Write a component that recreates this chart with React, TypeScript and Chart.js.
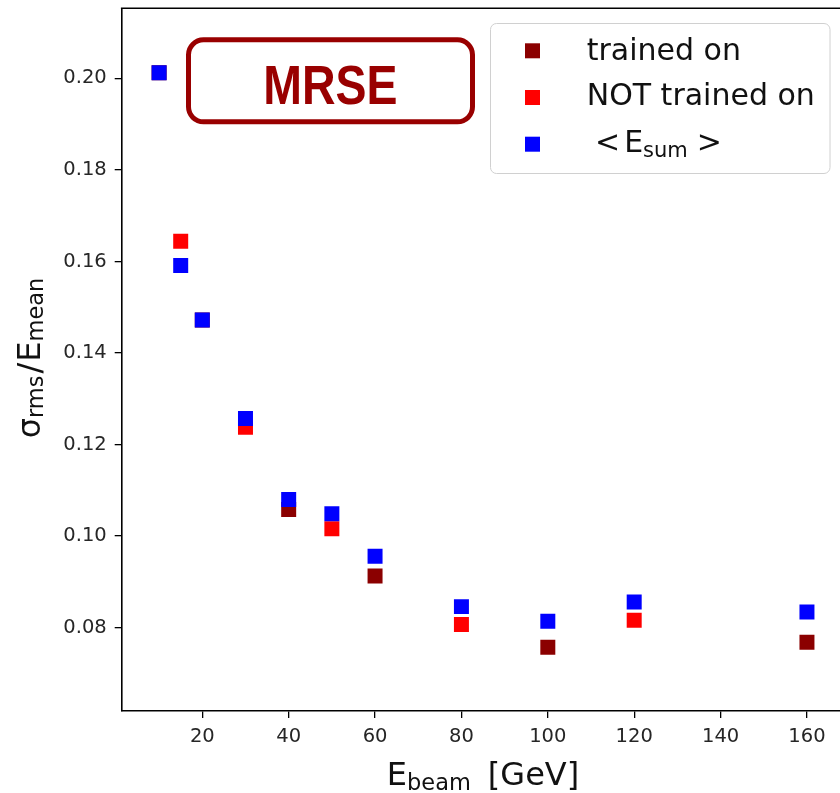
import React, { useEffect, useRef } from 'react';
import { Chart, registerables } from 'chart.js';

Chart.register(...registerables);

// ---- data ----
const TRAINED_E = [10, 20, 40, 60, 100, 160];
const TRAINED_RES = [0.2012, 0.1472, 0.1058, 0.0913, 0.0757, 0.0768];
const NOT_TRAINED_E = [15, 30, 50, 80, 120];
const NOT_TRAINED_RES = [0.1644, 0.1238, 0.1016, 0.0807, 0.0816];
const ESUM_E = [10, 15, 20, 30, 40, 50, 60, 80, 100, 120, 160];
const ESUM_RES = [0.2012, 0.1591, 0.1472, 0.1257, 0.108, 0.1049, 0.0956, 0.0846, 0.0814, 0.0856, 0.0834];
const X_TICKS = [20, 40, 60, 80, 100, 120, 140, 160];
const Y_TICKS = [0.08, 0.1, 0.12, 0.14, 0.16, 0.18, 0.2];
const SERIES_LABELS = ['trained on', 'NOT trained on', '<E_sum>'];
const SERIES_COLORS = ['#8b0000', '#ff0000', '#0000ff'];

const X_MIN = 1.34;
const X_MAX = 167.65;
const Y_MIN = 0.0618;
const Y_MAX = 0.2153;

const FONT = "'DejaVu Sans', sans-serif";
const BOX_RED = '#990000';

function roundRect(ctx: CanvasRenderingContext2D, x: number, y: number, w: number, h: number, r: number) {
  ctx.beginPath();
  ctx.moveTo(x + r, y);
  ctx.lineTo(x + w - r, y);
  ctx.arcTo(x + w, y, x + w, y + r, r);
  ctx.lineTo(x + w, y + h - r);
  ctx.arcTo(x + w, y + h, x + w - r, y + h, r);
  ctx.lineTo(x + r, y + h);
  ctx.arcTo(x, y + h, x, y + h - r, r);
  ctx.lineTo(x, y + r);
  ctx.arcTo(x, y, x + r, y, r);
  ctx.closePath();
}

const decorations = {
  id: 'decorations',
  afterDraw(chart: any) {
    const ctx: CanvasRenderingContext2D = chart.ctx;
    const { left, top, right } = chart.chartArea;
    ctx.save();

    // top spine
    ctx.strokeStyle = '#000';
    ctx.lineWidth = 1.6;
    ctx.beginPath();
    ctx.moveTo(left - 0.8, top);
    ctx.lineTo(right + 2, top);
    ctx.stroke();

    // MRSE box
    ctx.strokeStyle = BOX_RED;
    ctx.lineWidth = 5;
    roundRect(ctx, 188.5, 39.8, 284, 82, 15);
    ctx.fillStyle = '#fff';
    ctx.fill();
    ctx.stroke();
    ctx.save();
    ctx.fillStyle = BOX_RED;
    ctx.font = "bold 55px 'Liberation Sans', Arial, sans-serif";
    ctx.textBaseline = 'alphabetic';
    ctx.textAlign = 'center';
    ctx.translate(330.3, 103.5);
    ctx.scale(0.845, 1);
    ctx.fillText('MRSE', 0, 0);
    ctx.restore();

    // legend
    ctx.lineWidth = 1;
    ctx.strokeStyle = '#d0d0d0';
    roundRect(ctx, 490.5, 23.5, 339.5, 150, 6);
    ctx.fillStyle = 'rgba(255,255,255,0.9)';
    ctx.fill();
    ctx.stroke();
    const markerY = [50.8, 97.5, 144.2];
    const baseY = [60, 105, 151.5];
    for (let i = 0; i < 3; i++) {
      ctx.fillStyle = SERIES_COLORS[i];
      ctx.fillRect(532.5 - 7.5, markerY[i] - 7.5, 15, 15);
    }
    ctx.fillStyle = '#111';
    ctx.textAlign = 'left';
    ctx.textBaseline = 'alphabetic';
    ctx.font = `30px ${FONT}`;
    ctx.fillText(SERIES_LABELS[0], 586.7, baseY[0]);
    ctx.fillText(SERIES_LABELS[1], 586.7, baseY[1]);
    // "< E_sum >"
    let lx = 595;
    ctx.font = `30px ${FONT}`;
    ctx.fillText('<', lx, baseY[2]);
    lx += ctx.measureText('<').width + 4;
    ctx.fillText('E', lx, baseY[2]);
    lx += ctx.measureText('E').width;
    ctx.font = `21px ${FONT}`;
    ctx.fillText('sum', lx, baseY[2] + 5);
    lx += ctx.measureText('sum').width + 9;
    ctx.font = `30px ${FONT}`;
    ctx.fillText('>', lx, baseY[2]);

    // x title: E_beam [GeV]
    ctx.fillStyle = '#111';
    const main = `32px ${FONT}`;
    const sub = `22.5px ${FONT}`;
    const parts: [string, string, number, number][] = [
      ['E', main, 0, 0],
      ['beam', sub, 5, 17],
      ['[GeV]', main, 0, 0],
    ];
    let total = 0;
    for (const [t, f, , gap] of parts) {
      ctx.font = f;
      total += ctx.measureText(t).width + gap;
    }
    let x = 483 - total / 2;
    for (const [t, f, dy, gap] of parts) {
      ctx.font = f;
      ctx.fillText(t, x, 784.5 + dy);
      x += ctx.measureText(t).width + gap;
    }

    // y title: sigma_rms / E_mean (rotated)
    const yparts: [string, string, number, number][] = [
      ['σ', main, 0, 0],
      ['rms', sub, 3, 2],
      ['/', main, 0, 1],
      ['E', main, 0, 0],
      ['mean', sub, 3, 0],
    ];
    let ytotal = 0;
    for (const [t, f, , gap] of yparts) {
      ctx.font = f;
      ytotal += ctx.measureText(t).width + gap;
    }
    ctx.save();
    ctx.translate(40, 358 + ytotal / 2);
    ctx.rotate(-Math.PI / 2);
    let yx = 0;
    for (const [t, f, dy, gap] of yparts) {
      ctx.font = f;
      ctx.fillText(t, yx, dy);
      yx += ctx.measureText(t).width + gap;
    }
    ctx.restore();

    ctx.restore();
  },
};

function toPoints(xs: number[], ys: number[]) {
  return xs.map((v, i) => ({ x: v, y: ys[i] }));
}

function zeroPadding(scale: any) {
  scale.paddingTop = 0;
  scale.paddingBottom = 0;
  scale.paddingLeft = 0;
  scale.paddingRight = 0;
}

export default function App() {
  const canvasRef = useRef<HTMLCanvasElement | null>(null);

  useEffect(() => {
    if (!canvasRef.current) return;
    const pointCommon = {
      pointStyle: 'rect' as const,
      pointRadius: 10.6,
      pointHoverRadius: 10.6,
      borderWidth: 0,
      showLine: false,
    };
    const chart = new Chart(canvasRef.current, {
      type: 'scatter',
      data: {
        datasets: [
          {
            label: SERIES_LABELS[2],
            data: toPoints(ESUM_E, ESUM_RES),
            backgroundColor: SERIES_COLORS[2],
            borderColor: SERIES_COLORS[2],
            order: 0,
            ...pointCommon,
          },
          {
            label: SERIES_LABELS[1],
            data: toPoints(NOT_TRAINED_E, NOT_TRAINED_RES),
            backgroundColor: SERIES_COLORS[1],
            borderColor: SERIES_COLORS[1],
            order: 1,
            ...pointCommon,
          },
          {
            label: SERIES_LABELS[0],
            data: toPoints(TRAINED_E, TRAINED_RES),
            backgroundColor: SERIES_COLORS[0],
            borderColor: SERIES_COLORS[0],
            order: 2,
            ...pointCommon,
          },
        ],
      },
      options: {
        responsive: false,
        animation: false,
        layout: { autoPadding: false, padding: { top: 8.3, left: 0, right: 0, bottom: 0 } },
        plugins: {
          legend: { display: false },
          tooltip: { enabled: false },
        },
        scales: {
          x: {
            type: 'linear',
            min: X_MIN,
            max: X_MAX,
            afterFit(scale: any) {
              scale.height = 82;
              zeroPadding(scale);
            },
            afterBuildTicks(scale: any) {
              scale.ticks = X_TICKS.map((v) => ({ value: v }));
            },
            ticks: {
              font: { family: FONT, size: 19.5 },
              color: '#262626',
              padding: 7,
              maxRotation: 0,
              autoSkip: false,
              callback: (v: any) => String(v),
            },
            grid: { drawOnChartArea: false, tickLength: 7, color: '#000', lineWidth: 1.3 },
            border: { color: '#000', width: 1.6 },
          },
          y: {
            type: 'linear',
            min: Y_MIN,
            max: Y_MAX,
            afterFit(scale: any) {
              scale.width = 121.7;
              zeroPadding(scale);
            },
            afterBuildTicks(scale: any) {
              scale.ticks = Y_TICKS.map((v) => ({ value: v }));
            },
            ticks: {
              font: { family: FONT, size: 19.5 },
              color: '#262626',
              padding: 8,
              autoSkip: false,
              callback: (v: any) => Number(v).toFixed(2),
            },
            grid: { drawOnChartArea: false, tickLength: 7, color: '#000', lineWidth: 1.3 },
            border: { color: '#000', width: 1.6 },
          },
        },
      },
      plugins: [decorations],
    });
    return () => chart.destroy();
  }, []);

  return (
    <div style={{ position: 'absolute', left: 0, top: 0, width: 840, height: 793, background: '#fff' }}>
      <canvas ref={canvasRef} width={840} height={793} style={{ display: 'block', width: 840, height: 793 }} />
    </div>
  );
}
